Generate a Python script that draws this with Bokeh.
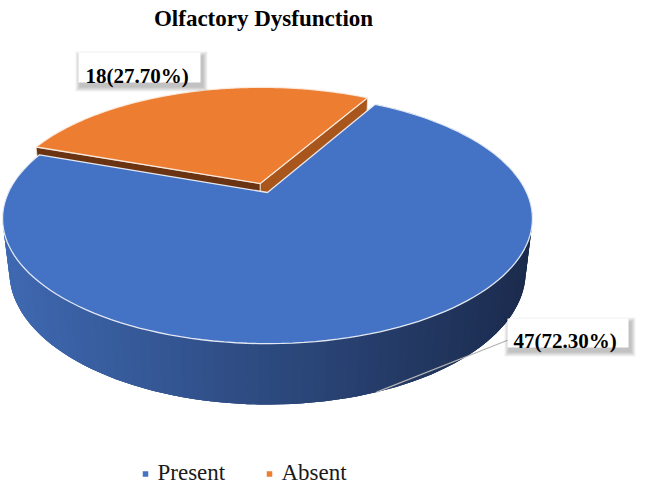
import numpy as np
from bokeh.plotting import figure
from bokeh.models import Range1d
from bokeh.core.properties import value
from bokeh.embed import file_html
from bokeh.resources import INLINE

# ---------------- data ----------------
title = "Olfactory Dysfunction"
categories = ["Present", "Absent"]
counts = [47, 18]
percents = [72.30, 27.70]
top_colors = ["#4472c4", "#ed7d31"]
explode = [0.0, 0.081]

# ---------------- 3-D pie projection parameters ----------------
CX, CY = 267.0, 192.0      # screen position of the pie centre
FOCAL = 1104.0
DIST = 4.26
TILT = np.radians(27.5)
HEIGHT = 0.233
START_ANGLE = 160.3        # degrees, counter-clockwise, where the first slice starts

SERIF = value("Liberation Serif")
W, H = 646, 491


def proj(X, Z, Y):
    X = np.asarray(X, float); Z = np.asarray(Z, float); Y = np.asarray(Y, float)
    yv = Y * np.cos(TILT) + Z * np.sin(TILT)
    zv = -Y * np.sin(TILT) + Z * np.cos(TILT)
    den = DIST + zv
    return CX + FOCAL * X / den, CY - FOCAL * yv / den


def lerp_color(c0, c1, t):
    t = min(max(t, 0.0), 1.0)
    r, g, b = (int(round(a + (b_ - a) * t)) for a, b_ in zip(c0, c1))
    return "#%02x%02x%02x" % (r, g, b)


# slice angles from data
fracs = np.array(counts, float) / sum(counts)
spans = fracs * 360.0
starts = START_ANGLE + np.concatenate([[0.0], np.cumsum(spans)[:-1]])
ends = starts + spans

p = figure(width=W, height=H, x_range=Range1d(0, W), y_range=Range1d(H, 0),
           min_border=0, toolbar_location=None, output_backend="svg",
           x_axis_location=None, y_axis_location=None, outline_line_color=None,
           background_fill_color="white", border_fill_color="white")
p.xgrid.visible = False
p.ygrid.visible = False


def slice_geom(i, n=160):
    a0, a1 = np.radians(starts[i]), np.radians(ends[i])
    mid = 0.5 * (a0 + a1)
    ox, oz = explode[i] * np.cos(mid), explode[i] * np.sin(mid)
    phis = np.linspace(a0, a1, n)
    return a0, a1, mid, ox, oz, phis


# ---------- Absent slice (exploded, behind) ----------
i = 1
a0, a1, mid, ox, oz, phis = slice_geom(i)
for ang, col in ((a1, "#6a3412"), (a0, "#a9561d")):
    Xs = [ox, ox + np.cos(ang), ox + np.cos(ang), ox]
    Zs = [oz, oz + np.sin(ang), oz + np.sin(ang), oz]
    Ys = [0, 0, -HEIGHT, -HEIGHT]
    sx, sy = proj(Xs, Zs, Ys)
    p.patch(list(sx), list(sy), fill_color=col, line_color="#f3e6dc", line_width=1.0, line_alpha=0.8)
Xs = np.concatenate([[ox], ox + np.cos(phis)])
Zs = np.concatenate([[oz], oz + np.sin(phis)])
sx, sy = proj(Xs, Zs, np.zeros_like(Xs))
p.patch(list(sx), list(sy), fill_color=top_colors[i], line_color="#fbeee4", line_width=1.3, line_alpha=0.9)

# ---------- Present slice ----------
i = 0
a0, a1, mid, ox, oz, phis = slice_geom(i, n=131)
c_left, c_right = (63, 105, 178), (27, 43, 77)
tx_, ty_ = proj(ox + np.cos(phis), oz + np.sin(phis), np.zeros_like(phis))
bx_, by_ = proj(ox + np.cos(phis), oz + np.sin(phis), np.full_like(phis, -HEIGHT))
p.patch(list(tx_) + list(bx_[::-1]), list(ty_) + list(by_[::-1]),
        fill_color="#2c4a82", line_color=None)
xs_list, ys_list, cols = [], [], []
for k in range(len(phis) - 1):
    k2 = min(k + 2, len(phis) - 1)
    sl = slice(k, k2 + 1)
    sx = list(tx_[sl]) + list(bx_[sl][::-1])
    sy = list(ty_[sl]) + list(by_[sl][::-1])
    xs_list.append(sx); ys_list.append(sy)
    cols.append(lerp_color(c_left, c_right, float(np.mean(tx_[k:k + 2])) / 530.0))
p.patches(xs_list, ys_list, fill_color=cols, line_color=None)
Xs = np.concatenate([[ox], ox + np.cos(phis)])
Zs = np.concatenate([[oz], oz + np.sin(phis)])
sx, sy = proj(Xs, Zs, np.zeros_like(Xs))
p.patch(list(sx), list(sy), fill_color=top_colors[i], line_color="#f4f6fb", line_width=1.3, line_alpha=0.9)

# ---------- data labels ----------
labels = [f"{c}({pc:.2f}%)" for c, pc in zip(counts, percents)]
label_boxes = [(507, 628, 318, 347), (78, 200, 52, 82)]   # left, right, top, bottom (screen px)
label_text_pos = [(513, 340), (85, 75)]

a0, a1, mid, ox, oz, _ = slice_geom(0)
lx, ly = proj([ox + np.cos(mid)], [oz + np.sin(mid)], [-HEIGHT])
p.line([float(lx[0]), label_boxes[0][0] + 2], [float(ly[0]), 339], line_color="#b4b4b4", line_width=1.3)

for (l, r, t, b), (tx, ty), txt in zip(label_boxes, label_text_pos, labels):
    for s in range(5, 0, -1):
        p.quad(left=[l - s + 2], right=[r + s + 2], top=[t - s + 4], bottom=[b + s + 4],
               fill_color="black", fill_alpha=0.05, line_color=None)
    p.quad(left=[l], right=[r], top=[t], bottom=[b], fill_color="white", line_color=None)
    p.text(x=[tx], y=[ty], text=[txt], text_font=SERIF, text_font_size="21px",
           text_font_style="bold", text_color="black", text_baseline="alphabetic", text_align="left")

# ---------- title ----------
p.text(x=[263], y=[18], text=[title], text_font=SERIF, text_font_size="23px",
       text_font_style="bold", text_color="black", text_align="center", text_baseline="alphabetic")

# ---------- legend ----------
legend_x = [145, 269]
for lxp, cat, col in zip(legend_x, categories, top_colors):
    p.scatter(x=[lxp], y=[473.5], marker="square", size=5.5, fill_color=col, line_color=None)
    p.text(x=[lxp + 12], y=[472], text=[cat], text_font=SERIF, text_font_size="23px",
           text_color="#1a1a1a", text_align="left", text_baseline="middle",
           text_line_height=1.0)

open("out.html", "w").write(file_html(p, INLINE))
